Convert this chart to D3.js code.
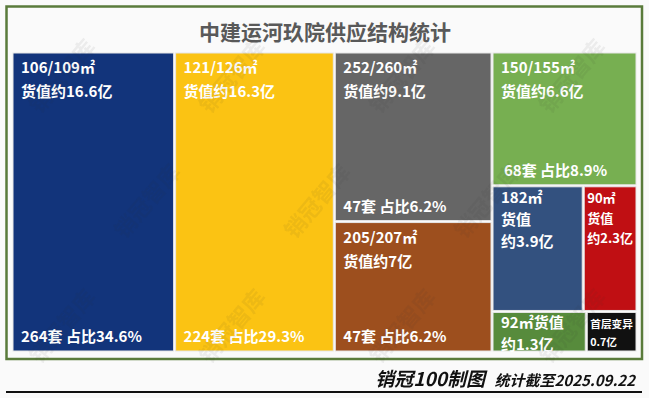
<!DOCTYPE html>
<html>
<head>
<meta charset="utf-8">
<script src="https://cdn.jsdelivr.net/npm/d3@7/dist/d3.min.js"></script>
<style>
  body { margin: 0; background: #fafafa; }
  svg { display: block; font-family: "Noto Sans CJK SC", "Noto Sans", sans-serif; }
</style>
</head>
<body>
<svg id="chart" width="649" height="398"></svg>
<script>
// 数据
const title = "中建运河玖院供应结构统计";
const values = [16.6, 16.3, 9.1, 7, 6.6, 3.9, 2.3, 1.3, 0.7];   // 货值(亿) 决定面积
const topLines = [
  ["106/109㎡", "货值约16.6亿"],
  ["121/126㎡", "货值约16.3亿"],
  ["252/260㎡", "货值约9.1亿"],
  ["205/207㎡", "货值约7亿"],
  ["150/155㎡", "货值约6.6亿"],
  ["182㎡", "货值", "约3.9亿"],
  ["90㎡", "货值", "约2.3亿"],
  ["92㎡货值", "约1.3亿"],
  ["首层变异", "0.7亿"]
];
const bottomLines = ["264套 占比34.6%", "224套 占比29.3%", "47套 占比6.2%", "47套 占比6.2%", "68套 占比8.9%", "", "", "", ""];
const colors = ["#12347b", "#fbc313", "#666666", "#9d4f1e", "#77af51", "#33517f", "#c00f13", "#578b3c", "#111111"];
// 分组结构 (h=横向切分, v=纵向切分)
const groups = { dir: "h", children: [0, 1, { dir: "v", children: [2, 3] },
  { dir: "v", children: [4, { dir: "h", children: [5, 6] }, { dir: "h", children: [7, 8] }] }] };

const svg = d3.select("#chart");
const W = 649, H = 398;
svg.append("rect").attr("width", W).attr("height", H).attr("fill", "#fafafa");

// 外框
svg.append("rect")
  .attr("x", 6.5).attr("y", 6.5).attr("width", 635.5).attr("height", 352.5)
  .attr("fill", "none").attr("stroke", "#5a7b3b").attr("stroke-width", 2.5);

svg.append("text")
  .attr("x", 325).attr("y", 40)
  .attr("text-anchor", "middle")
  .attr("font-size", 21).attr("font-weight", "bold")
  .attr("fill", "#595959")
  .text(title);

const build = g => typeof g === "number"
  ? { idx: g, value: values[g] }
  : { dir: g.dir, children: g.children.map(build) };

const root = d3.hierarchy(build(groups)).sum(d => d.children ? 0 : d.value);

d3.treemap()
  .tile((node, x0, y0, x1, y1) =>
    (node.data.dir === "v" ? d3.treemapSlice : d3.treemapDice)(node, x0, y0, x1, y1))
  .size([623, 298])
  .paddingInner(2)(root);

const g = svg.append("g").attr("transform", "translate(13,53)");

const cell = g.selectAll("g.cell")
  .data(root.leaves())
  .join("g")
  .attr("class", "cell")
  .attr("transform", d => `translate(${d.x0},${d.y0})`);

cell.append("rect")
  .attr("width", d => d.x1 - d.x0)
  .attr("height", d => d.y1 - d.y0)
  .attr("fill", d => colors[d.data.idx])
  .attr("stroke", "#e6e6e6")
  .attr("stroke-width", 1);

const FS = 15;
cell.each(function(d) {
  const w = d.x1 - d.x0, h = d.y1 - d.y0;
  const big = w > 120;
  const padL = w < 60 ? 3 : 8;
  const sel = d3.select(this);
  const texts = topLines[d.data.idx].map(s => sel.append("text")
    .attr("x", padL)
    .attr("fill", "#fff").attr("font-weight", "bold")
    .attr("font-size", FS)
    .text(s));
  // 放不下就整体缩小
  const maxLen = d3.max(texts, t => t.node().getComputedTextLength());
  const fs = maxLen > w - padL - 3 ? FS * (w - padL - 3) / maxLen : FS;
  let y = big ? 20 : 16;
  texts.forEach(t => {
    t.attr("font-size", fs).attr("y", y);
    y += fs + (big ? 9 : 7);
  });
  const b = bottomLines[d.data.idx];
  if (b) {
    sel.append("text")
      .attr("x", d.data.idx === 4 ? 11 : 8)
      .attr("y", h - 9)
      .attr("fill", "#fff").attr("font-weight", "bold")
      .attr("font-size", FS)
      .text(b);
  }
});

// 水印
const wm = svg.append("g").attr("opacity", 0.07).attr("pointer-events", "none");
for (let r = 0; r < 3; r++) {
  for (let c = 0; c < 4; c++) {
    const x = 40 + c * 170 + (r % 2) * 85, y = 115 + r * 125;
    if (x > 580) continue;
    wm.append("text")
      .attr("transform", `translate(${x},${y}) rotate(-50)`)
      .attr("font-size", 22).attr("font-weight", "bold")
      .attr("fill", "#333")
      .text("销冠智库");
  }
}

// 底部
svg.append("line")
  .attr("x1", 6).attr("x2", 642).attr("y1", 392).attr("y2", 392)
  .attr("stroke", "#111").attr("stroke-width", 2);

svg.append("text")
  .attr("x", 485).attr("y", 386)
  .attr("text-anchor", "end")
  .attr("font-size", 19).attr("font-weight", "bold").attr("font-style", "italic")
  .attr("fill", "#111")
  .text("销冠100制图");

svg.append("text")
  .attr("x", 635).attr("y", 386)
  .attr("text-anchor", "end")
  .attr("font-size", 15).attr("font-weight", "bold").attr("font-style", "italic")
  .attr("fill", "#111")
  .text("统计截至2025.09.22");
</script>
</body>
</html>
